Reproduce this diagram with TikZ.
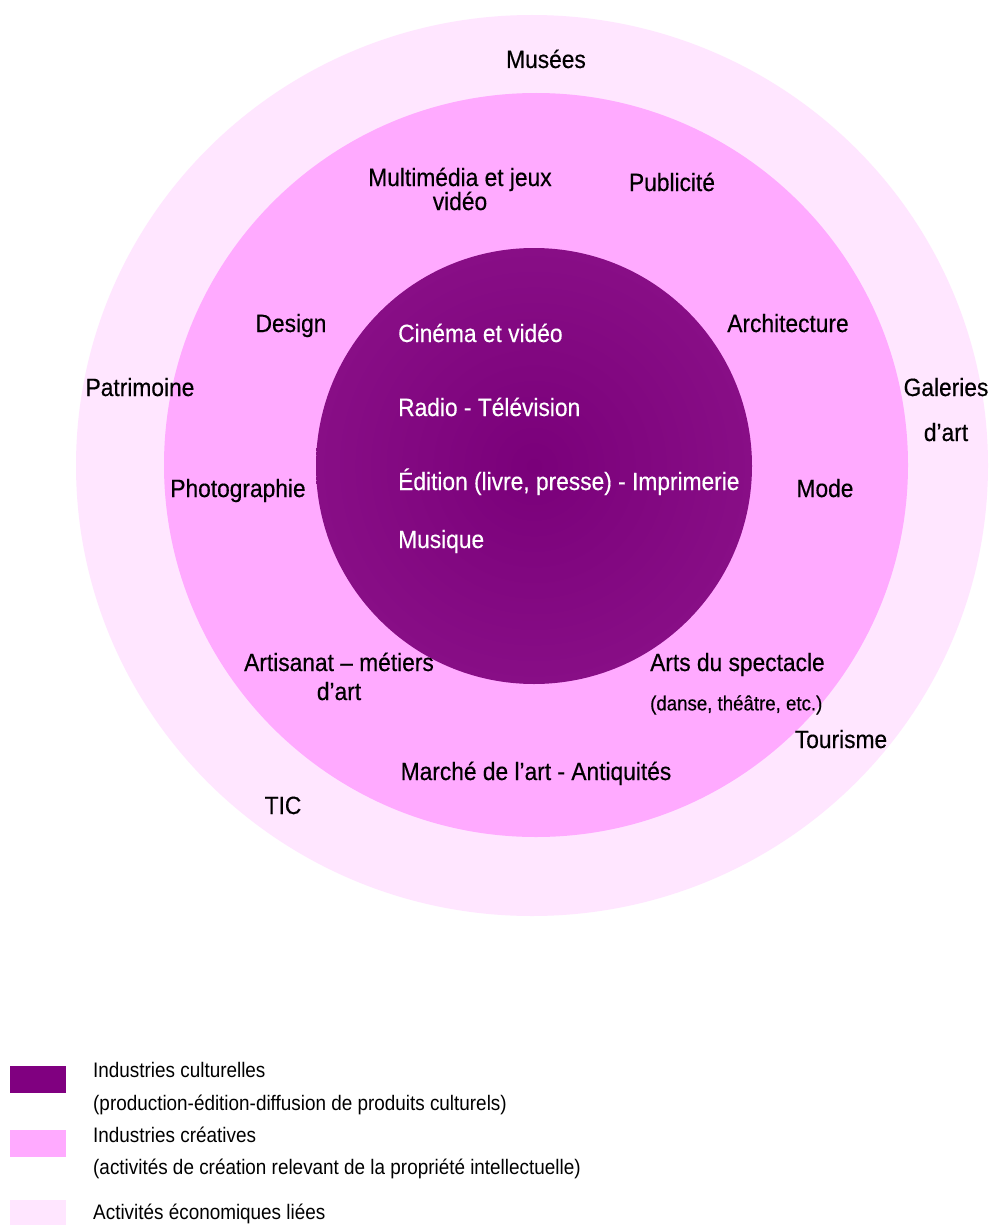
\documentclass[tikz,border=0pt]{standalone}
\usepackage{fontspec}
\newfontfamily\labfont{Liberation Sans}[FakeStretch=0.91,FakeBold=0.4]
\newfontfamily\legfont{Liberation Sans}[FakeStretch=0.9]
\definecolor{culture}{HTML}{880E86}
\definecolor{culturec}{HTML}{7A007A}
\definecolor{creative}{HTML}{FFAAFF}
\definecolor{related}{HTML}{FFE6FF}
\definecolor{legdark}{HTML}{800080}
\begin{document}
\begin{tikzpicture}[x=1pt,y=-1pt,
  lab/.style={font={\labfont\fontsize{25}{30}\selectfont}, inner sep=0pt, text height=18pt, text depth=0pt, text=black},
  inlab/.style={lab, text=white, anchor=west},
  small/.style={font={\labfont\fontsize{20.5}{24}\selectfont}, inner sep=0pt, text height=14.7pt, text depth=0pt, text=black},
  leg/.style={font={\legfont\fontsize{21}{25}\selectfont}, inner sep=0pt, text height=15pt, text depth=0pt, anchor=west, text=black},
  swatch/.style={draw=none, minimum width=56pt, minimum height=27pt, inner sep=0pt, anchor=north west}]
\useasboundingbox (0,0) rectangle (989,1225);
\fill[white] (0,0) rectangle (989,1225);
% rings
\fill[related] (532,465.5) ellipse [x radius=456, y radius=450.5];
\fill[creative] (536,465) circle [radius=372];
\shade[inner color=culturec, outer color=culture] (534,466) circle [radius=218];
% outer ring labels
\node[lab] (musees) at (546,59) {Musées};
\node[lab] (patrimoine) at (140,387) {Patrimoine};
\node[lab] (galeries) at (946,387) {Galeries};
\node[lab] (dart2) at (946,432) {d’art};
\node[lab] (tourisme) at (841,739) {Tourisme};
\node[lab] (tic) at (283,805) {TIC};
% middle ring labels
\node[lab] (multi1) at (460,177) {Multimédia et jeux};
\node[lab] (multi2) at (460,201) {vidéo};
\node[lab] (pub) at (672,182) {Publicité};
\node[lab] (design) at (291,323) {Design};
\node[lab] (archi) at (788,323) {Architecture};
\node[lab] (photo) at (238,488) {Photographie};
\node[lab] (mode) at (825,488) {Mode};
\node[lab] (artis1) at (339,662) {Artisanat – métiers};
\node[lab] (artis2) at (339,691) {d’art};
\node[lab, anchor=west] (arts) at (650,662) {Arts du spectacle};
\node[small, anchor=west] (danse) at (650,703) {(danse, théâtre, etc.)};
\node[lab] (marche) at (536,771) {Marché de l’art - Antiquités};
% inner labels
\node[inlab] (cinema) at (398,333) {Cinéma et vidéo};
\node[inlab] (radio) at (398,407) {Radio - Télévision};
\node[inlab] (edition) at (398,481) {Édition (livre, presse) - Imprimerie};
\node[inlab] (musique) at (398,539) {Musique};
% legend
\node[swatch, fill=legdark] (sw1) at (10,1066) {};
\node[swatch, fill=creative] (sw2) at (10,1130) {};
\node[swatch, fill=related] (sw3) at (10,1200) {};
\node[leg] (l1) at (93,1070) {Industries culturelles};
\node[leg] (l2) at (93,1103) {(production-édition-diffusion de produits culturels)};
\node[leg] (l3) at (93,1135) {Industries créatives};
\node[leg] (l4) at (93,1167) {(activités de création relevant de la propriété intellectuelle)};
\node[leg] (l5) at (93,1212) {Activités économiques liées};
\end{tikzpicture}
\end{document}
